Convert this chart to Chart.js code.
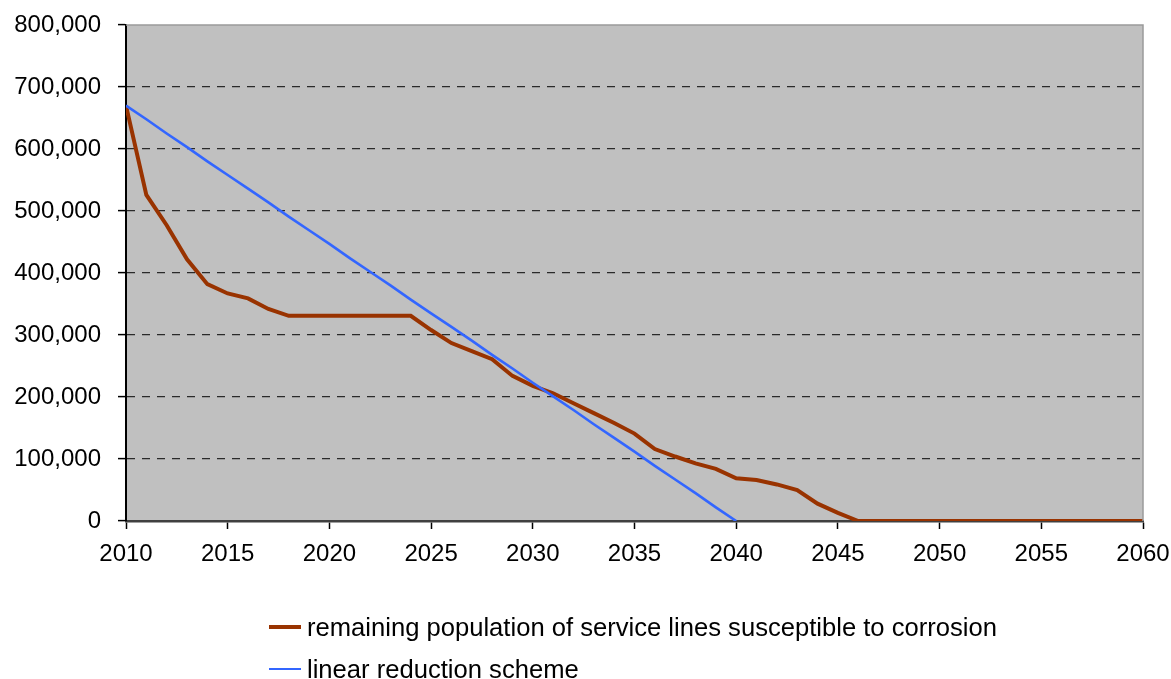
<!DOCTYPE html>
<html>
<head>
<meta charset="utf-8">
<script src="https://cdn.jsdelivr.net/npm/chart.js@4/dist/chart.umd.min.js"></script>
<style>
  html, body { margin: 0; padding: 0; background: #ffffff; }
  #wrap { position: relative; width: 1171px; height: 679px; overflow: hidden; }
  #chart { position: absolute; left: 0; top: 0; }
  #legend { position: absolute; left: 269px; top: 606px; font-family: "Liberation Sans", Arial, sans-serif; font-size: 25.6px; color: #000; }
  #legend .row { display: flex; align-items: center; height: 42px; white-space: nowrap; }
  #legend .swatch { width: 32px; margin-right: 6px; }
</style>
</head>
<body>
<div id="wrap">
  <canvas id="chart" width="1171" height="679"></canvas>
  <div id="legend"></div>
</div>
<script>
// Years on the horizontal axis
const years = [];
for (let y = 2010; y <= 2060; y++) years.push(y);

// Remaining service lines susceptible to corrosion, one value per year 2010–2060
const remainingLines = [
  670000, 526000, 477000, 422000, 382000, 367000, 359000, 342000, 331000, 331000,
  331000, 331000, 331000, 331000, 331000, 308000, 287000, 274000, 261000, 234000,
  218000, 206000, 190000, 174000, 158000, 141000, 116000, 104000, 93000, 84000,
  69000, 66000, 59000, 50000, 28000, 13000, 0, 0, 0, 0,
  0, 0, 0, 0, 0, 0, 0, 0, 0, 0, 0
];

// Linear reduction scheme, 2010–2040
const linearScheme = [
  670000, 648000, 625000, 603000, 580000, 558000, 536000, 514000, 491000, 469000,
  447000, 424000, 402000, 380000, 357000, 335000, 313000, 291000, 268000, 246000,
  223000, 201000, 179000, 156000, 134000, 112000, 89000, 67000, 45000, 22000, 0
];

const seriesLabels = [
  'remaining population of service lines susceptible to corrosion',
  'linear reduction scheme'
];
const seriesColors = ['#993300', '#3366FF'];
const seriesWidths = [4, 2.6];

const toPoints = vals => vals.map((v, i) => ({ x: years[i], y: v }));

// Grey plot background with thin frame on top and right
const plotFrame = {
  id: 'plotFrame',
  beforeDraw(chart) {
    const { ctx, chartArea: a } = chart;
    ctx.save();
    ctx.fillStyle = '#C0C0C0';
    ctx.fillRect(a.left, a.top, a.right - a.left, a.bottom - a.top);
    ctx.restore();
  },
  afterDatasetsDraw(chart) {
    const { ctx, chartArea: a } = chart;
    ctx.save();
    ctx.lineWidth = 1.5;
    ctx.strokeStyle = '#9a9a9a';
    ctx.beginPath();
    ctx.moveTo(a.left, a.top);
    ctx.lineTo(a.right, a.top);
    ctx.lineTo(a.right, a.bottom);
    ctx.stroke();
    ctx.restore();
  }
};

const fontSpec = { family: '"Liberation Sans", Arial, sans-serif', size: 24 };

const chart = new Chart(document.getElementById('chart'), {
  type: 'line',
  data: {
    datasets: [
      {
        label: seriesLabels[0],
        data: toPoints(remainingLines),
        borderColor: seriesColors[0],
        borderWidth: seriesWidths[0],
        pointRadius: 0,
        tension: 0,
        order: 1
      },
      {
        label: seriesLabels[1],
        data: toPoints(linearScheme),
        borderColor: seriesColors[1],
        borderWidth: seriesWidths[1],
        pointRadius: 0,
        tension: 0,
        order: 0
      }
    ]
  },
  options: {
    responsive: false,
    animation: false,
    devicePixelRatio: 1,
    layout: { padding: { top: 25, right: 28, left: 0, bottom: 0 } },
    plugins: { legend: { display: false }, tooltip: { enabled: false } },
    scales: {
      x: {
        type: 'linear',
        min: 2010,
        max: 2060,
        afterFit(scale) {
          scale.height = 158;
          scale.paddingLeft = 0;
          scale.paddingRight = 0;
        },
        ticks: {
          stepSize: 5,
          color: '#000',
          font: fontSpec,
          padding: 11,
          maxRotation: 0,
          callback: v => String(v)
        },
        grid: {
          drawOnChartArea: false,
          drawTicks: true,
          tickLength: 8,
          tickColor: '#000',
          tickWidth: 1.5
        },
        border: { display: true, color: '#404040', width: 2.5 }
      },
      y: {
        min: 0,
        max: 800000,
        afterFit(scale) {
          scale.width = 126;
          scale.paddingTop = 0;
          scale.paddingBottom = 0;
        },
        ticks: {
          stepSize: 100000,
          color: '#000',
          font: fontSpec,
          padding: 17,
          callback: v => v.toLocaleString('en-US')
        },
        grid: {
          drawTicks: true,
          tickLength: 8,
          tickColor: '#000',
          tickWidth: 1.5,
          lineWidth: 1.2,
          color: ctx => (ctx.tick && (ctx.tick.value === 0 || ctx.tick.value === 800000)) ? 'rgba(0,0,0,0)' : '#2a2a2a'
        },
        border: { display: true, color: '#000', width: 2, dash: [8, 7] }
      }
    }
  },
  plugins: [plotFrame]
});

// Legend below the chart, built from the dataset labels
const legend = document.getElementById('legend');
chart.data.datasets.forEach(ds => {
  const row = document.createElement('div');
  row.className = 'row';
  const sw = document.createElement('div');
  sw.className = 'swatch';
  sw.style.borderTop = ds.borderWidth + 'px solid ' + ds.borderColor;
  const txt = document.createElement('span');
  txt.textContent = ds.label;
  row.appendChild(sw);
  row.appendChild(txt);
  legend.appendChild(row);
});
</script>
</body>
</html>
